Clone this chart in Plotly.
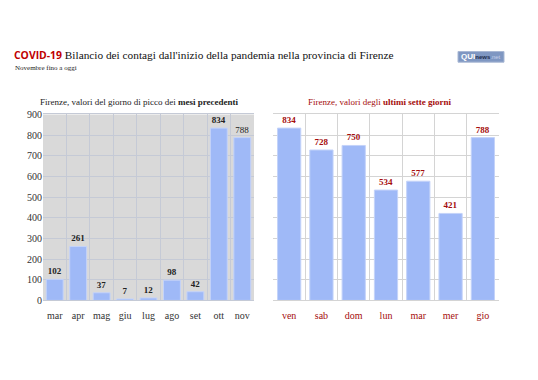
import plotly.graph_objects as go

W, H = 538, 380

months = ["mar", "apr", "mag", "giu", "lug", "ago", "set", "ott", "nov"]
month_vals = [102, 261, 37, 7, 12, 98, 42, 834, 788]
days = ["ven", "sab", "dom", "lun", "mar", "mer", "gio"]
day_vals = [834, 728, 750, 534, 577, 421, 788]
y_ticks = [0, 100, 200, 300, 400, 500, 600, 700, 800, 900]

SERIF = "Liberation Serif, DejaVu Serif, serif"
BAR = "#9fb9f7"
DARKRED = "#a50d0d"

def px_x(p):
    return p / W

def px_y(p):
    return 1 - p / H

fig = go.Figure()

month_text = [("<b>%d</b>" % v) if m != "nov" else str(v) for m, v in zip(months, month_vals)]
fig.add_trace(go.Bar(
    x=months, y=month_vals, xaxis="x", yaxis="y",
    marker=dict(color=BAR, line=dict(color="#c4d3f9", width=1)),
    width=0.72, text=month_text, textposition="outside", constraintext="none",
    textfont=dict(family=SERIF, size=9, color="#222222"), cliponaxis=False,
    hoverinfo="x+y",
))
fig.add_trace(go.Bar(
    x=days, y=day_vals, xaxis="x2", yaxis="y2",
    marker=dict(color=BAR, line=dict(color="#c4d3f9", width=1)),
    width=0.72, text=["<b>%d</b>" % v for v in day_vals], textposition="outside",
    constraintext="none",
    textfont=dict(family=SERIF, size=9, color=DARKRED), cliponaxis=False,
    hoverinfo="x+y",
))

ydom = [px_y(304), px_y(112)]
fig.update_layout(
    width=W, height=H, margin=dict(l=0, r=0, t=0, b=0),
    paper_bgcolor="white", plot_bgcolor="white", showlegend=False,
    bargap=0.28,
    xaxis=dict(domain=[px_x(43), px_x(254)], type="category", tickson="boundaries",
               showgrid=True, gridcolor="#c5cad6", gridwidth=1, ticks="", ticklen=0,
               tickangle=0, ticklabelstandoff=6,
               tickfont=dict(family=SERIF, size=10, color="#333333"),
               showline=True, linecolor="#c5cad6", mirror=True, anchor="y", fixedrange=True),
    yaxis=dict(domain=ydom, range=[0, 900], tickvals=y_ticks, showgrid=True,
               gridcolor="#c5cad6", gridwidth=1, zeroline=False,
               tickfont=dict(family=SERIF, size=10, color="#333333"), ticks="",
               showline=False, anchor="x", fixedrange=True),
    xaxis2=dict(domain=[px_x(273), px_x(499)], type="category", tickson="boundaries",
                showgrid=True, gridcolor="#d4d4d4", gridwidth=1, ticks="", tickangle=0,
                ticklabelstandoff=6,
                tickfont=dict(family=SERIF, size=10, color=DARKRED),
                showline=True, linecolor="#d4d4d4", mirror=True, anchor="y2", fixedrange=True),
    yaxis2=dict(domain=ydom, range=[0, 900], tickvals=y_ticks, showgrid=True,
                gridcolor="#d4d4d4", gridwidth=1, zeroline=False, showticklabels=False,
                ticks="", anchor="x2", fixedrange=True),
)

# Grey background for the left panel
fig.add_shape(type="rect", xref="x domain", yref="y domain", x0=0, x1=1, y0=0, y1=1,
              fillcolor="#d9d9d9", line=dict(width=0), layer="below")

# Title
fig.add_annotation(
    xref="paper", yref="paper", x=px_x(12), y=px_y(51), xanchor="left", yanchor="middle",
    showarrow=False, align="left",
    text=("<span style='font-family:Open Sans, Liberation Sans, sans-serif;color:#c00000;font-size:10.4px'><b>COVID-19</b></span>"
          " Bilancio dei contagi dall'inizio della pandemia nella provincia di Firenze"),
    font=dict(family=SERIF, size=11.3, color="#111111"),
)
fig.add_annotation(
    xref="paper", yref="paper", x=px_x(13), y=px_y(64), xanchor="left", yanchor="middle",
    showarrow=False, text="Novembre fino a oggi",
    font=dict(family=SERIF, size=7, color="#222222"),
)

# Panel titles
fig.add_annotation(
    xref="paper", yref="paper", x=px_x(139), y=px_y(99), xanchor="center", yanchor="middle",
    showarrow=False, text="Firenze, valori del giorno di picco dei <b>mesi precedenti</b>",
    font=dict(family=SERIF, size=9, color="#222222"),
)
fig.add_annotation(
    xref="paper", yref="paper", x=px_x(379), y=px_y(99), xanchor="center", yanchor="middle",
    showarrow=False, text="Firenze, valori degli <b>ultimi sette giorni</b>",
    font=dict(family=SERIF, size=9, color=DARKRED),
)

# Logo
fig.add_shape(type="rect", xref="paper", yref="paper",
              x0=px_x(458), x1=px_x(504), y0=px_y(58), y1=px_y(47),
              fillcolor="#7f97c2", line=dict(color="#a9b8d4", width=1))
fig.add_annotation(
    xref="paper", yref="paper", x=px_x(481), y=px_y(52.5), xanchor="center", yanchor="middle",
    showarrow=False,
    text="<b>QUI</b><span style='font-size:6px;color:#1d2a4a'><b>news</b></span><span style='font-size:6px;color:#c7d2ea'>.net</span>",
    font=dict(family="Liberation Sans, Arial, sans-serif", size=8, color="white"),
)

fig.write_html("out.html")
